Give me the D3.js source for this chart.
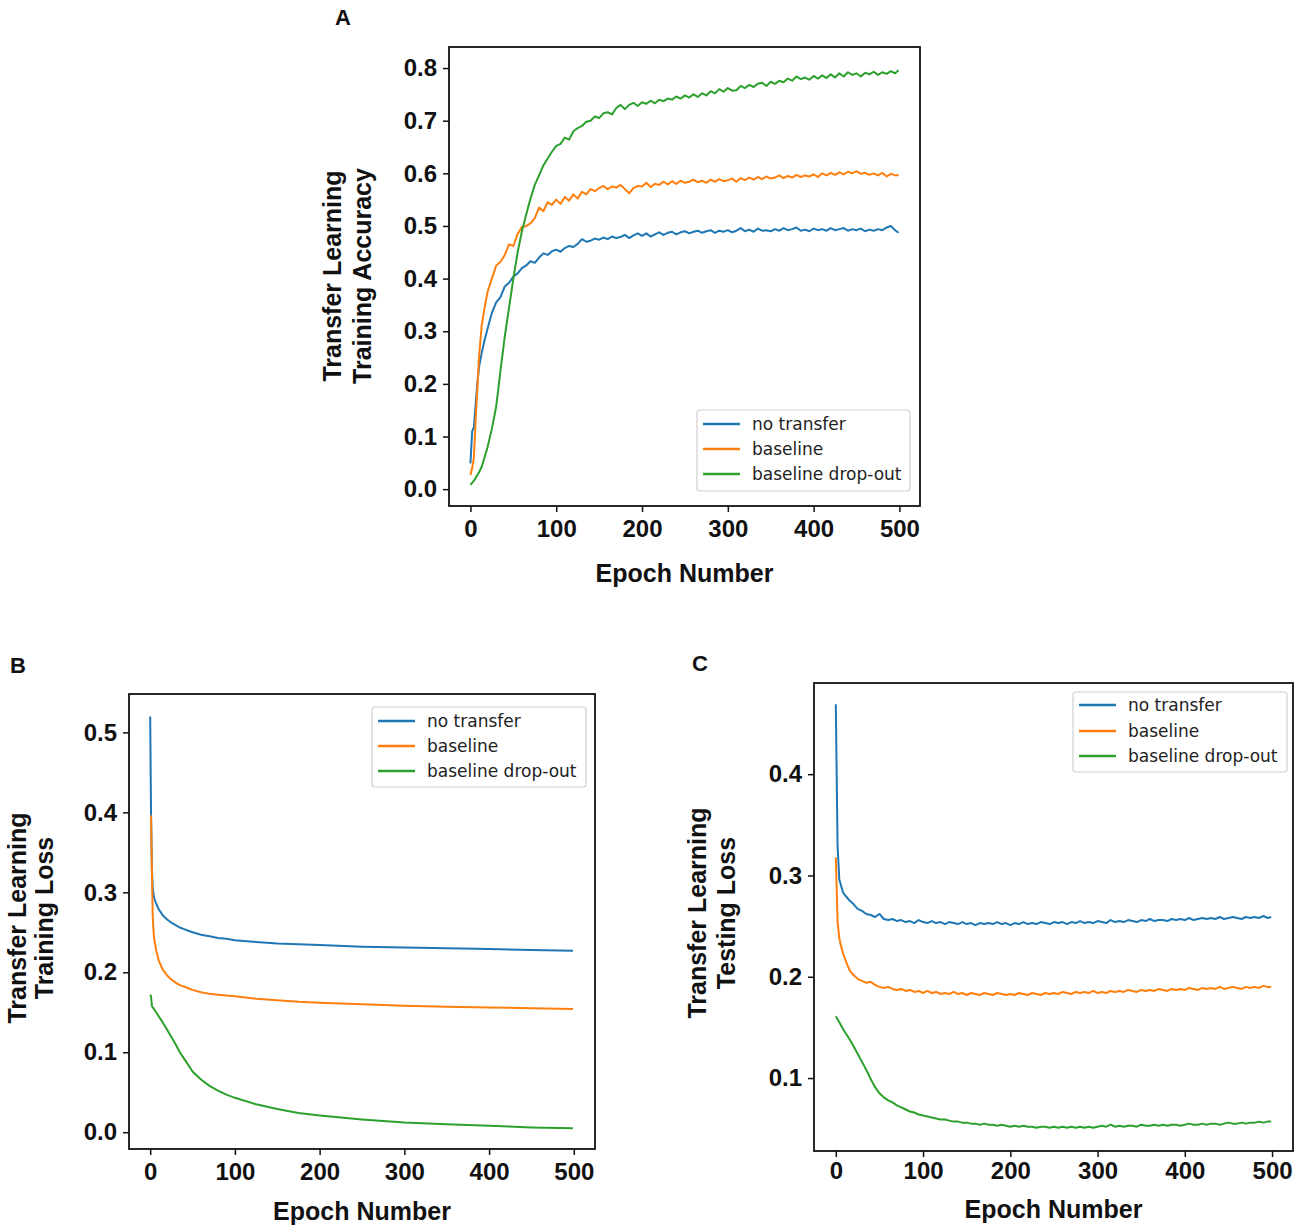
<!DOCTYPE html>
<html>
<head>
<meta charset="utf-8">
<script src="https://cdn.jsdelivr.net/npm/d3@7"></script>
<style>
  html, body { margin: 0; padding: 0; background: #fff; }
  svg { display: block; }
</style>
</head>
<body>
<svg id="chart" width="1300" height="1230"></svg>
<script>
// ---------------- DATA ----------------
const seriesNames = ["no transfer", "baseline", "baseline drop-out"];
const seriesColors = ["#1f77b4", "#ff7f0e", "#2ca02c"];
const xTickValues = [0, 100, 200, 300, 400, 500];
const yTicksA = [0.0, 0.1, 0.2, 0.3, 0.4, 0.5, 0.6, 0.7, 0.8];
const yTicksB = [0.0, 0.1, 0.2, 0.3, 0.4, 0.5];
const yTicksC = [0.1, 0.2, 0.3, 0.4];

// epochs sampled for the noisy curves (panels A and C)
const epochsNoisy = [0,2,4,6,8,10,13,16,20,
  25,30,35,40,45,50,55,60,65,70,
  75,80,85,90,95,100,105,110,115,120,
  125,130,135,140,145,150,155,160,165,170,
  175,180,185,190,195,200,205,210,215,220,
  225,230,235,240,245,250,255,260,265,270,
  275,280,285,290,295,300,305,310,315,320,
  325,330,335,340,345,350,355,360,365,370,
  375,380,385,390,395,400,405,410,415,420,
  425,430,435,440,445,450,455,460,465,470,
  475,480,485,490,495,499];

// Panel A: training accuracy
const accNoTransfer = [0.049,0.110,0.118,0.160,0.200,0.232,0.258,0.280,0.305,
  0.335,0.355,0.365,0.385,0.392,0.404,0.410,0.420,0.425,0.433,
  0.430,0.440,0.448,0.445,0.452,0.455,0.451,0.458,0.462,0.460,
  0.466,0.475,0.470,0.472,0.476,0.474,0.478,0.475,0.480,0.477,
  0.479,0.483,0.477,0.482,0.486,0.481,0.486,0.480,0.484,0.488,
  0.483,0.487,0.489,0.484,0.488,0.490,0.486,0.489,0.491,0.487,
  0.490,0.492,0.487,0.491,0.489,0.492,0.488,0.491,0.496,0.490,
  0.493,0.489,0.495,0.491,0.492,0.490,0.494,0.491,0.496,0.492,
  0.494,0.497,0.491,0.493,0.490,0.495,0.492,0.494,0.491,0.496,
  0.492,0.494,0.496,0.491,0.494,0.492,0.495,0.490,0.493,0.491,
  0.494,0.492,0.497,0.500,0.492,0.487];
const accBaseline = [0.027,0.040,0.060,0.130,0.190,0.250,0.310,0.340,0.375,
  0.400,0.425,0.432,0.445,0.465,0.462,0.485,0.498,0.500,0.505,
  0.515,0.535,0.528,0.545,0.540,0.550,0.542,0.555,0.548,0.560,
  0.552,0.565,0.560,0.570,0.566,0.572,0.576,0.570,0.575,0.573,
  0.578,0.570,0.562,0.572,0.576,0.575,0.582,0.574,0.580,0.578,
  0.584,0.579,0.585,0.580,0.586,0.582,0.584,0.588,0.583,0.586,
  0.582,0.588,0.584,0.589,0.585,0.587,0.590,0.584,0.591,0.587,
  0.592,0.588,0.593,0.589,0.594,0.590,0.592,0.596,0.591,0.595,
  0.592,0.597,0.593,0.596,0.594,0.598,0.593,0.600,0.596,0.601,
  0.597,0.602,0.598,0.603,0.600,0.604,0.599,0.601,0.597,0.600,
  0.596,0.601,0.594,0.599,0.596,0.597];
const accDropout = [0.008,0.012,0.016,0.021,0.027,0.032,0.042,0.058,0.080,
  0.115,0.157,0.225,0.290,0.345,0.400,0.450,0.490,0.522,0.552,
  0.578,0.596,0.615,0.628,0.641,0.652,0.656,0.668,0.664,0.680,
  0.686,0.690,0.698,0.700,0.708,0.705,0.714,0.716,0.712,0.724,
  0.730,0.722,0.730,0.734,0.728,0.735,0.732,0.738,0.733,0.740,
  0.737,0.742,0.740,0.746,0.742,0.748,0.744,0.750,0.745,0.752,
  0.748,0.756,0.752,0.760,0.755,0.762,0.757,0.758,0.766,0.762,
  0.768,0.764,0.770,0.772,0.766,0.774,0.770,0.776,0.773,0.780,
  0.776,0.784,0.779,0.782,0.778,0.785,0.780,0.786,0.781,0.788,
  0.782,0.790,0.784,0.792,0.787,0.790,0.784,0.791,0.788,0.793,
  0.787,0.792,0.789,0.794,0.790,0.796];

// Panel B: training loss (smooth)
const epochsTrainLoss = [0,1,2,3,4,5,7,10,15,20,25,30,35,40,45,50,60,70,80,90,100,125,150,175,200,250,300,350,400,450,499];
const trainLossNoTransfer = [0.520,0.400,0.330,0.305,0.297,0.292,0.286,0.279,0.271,0.266,0.262,0.259,0.256,0.254,0.252,0.250,0.247,0.245,0.243,0.242,0.240,0.238,0.236,0.235,0.234,0.232,0.231,0.230,0.229,0.228,0.227];
const trainLossBaseline = [0.395,0.395,0.330,0.270,0.250,0.240,0.228,0.215,0.203,0.196,0.191,0.187,0.184,0.182,0.180,0.178,0.175,0.173,0.172,0.171,0.170,0.167,0.165,0.163,0.162,0.160,0.158,0.157,0.156,0.155,0.154];
const trainLossDropout = [0.172,0.170,0.158,0.156,0.155,0.153,0.150,0.145,0.137,0.128,0.119,0.110,0.100,0.092,0.084,0.076,0.066,0.058,0.052,0.047,0.043,0.035,0.029,0.024,0.021,0.016,0.012,0.010,0.008,0.006,0.005];

// Panel C: testing loss
const testLossNoTransfer = [0.469,0.330,0.296,0.290,0.284,0.281,0.278,0.275,0.272,
  0.267,0.265,0.262,0.261,0.259,0.262,0.257,0.256,0.257,0.255,
  0.256,0.254,0.255,0.253,0.256,0.254,0.253,0.255,0.253,0.254,
  0.252,0.254,0.253,0.252,0.254,0.252,0.253,0.251,0.253,0.252,
  0.253,0.252,0.254,0.252,0.253,0.251,0.253,0.252,0.254,0.252,
  0.253,0.252,0.254,0.253,0.252,0.254,0.253,0.254,0.252,0.254,
  0.253,0.255,0.253,0.254,0.253,0.255,0.254,0.253,0.256,0.254,
  0.255,0.254,0.256,0.255,0.254,0.256,0.255,0.257,0.255,0.256,
  0.256,0.255,0.257,0.256,0.257,0.256,0.258,0.256,0.257,0.258,
  0.257,0.258,0.257,0.259,0.257,0.258,0.259,0.258,0.257,0.259,
  0.258,0.259,0.258,0.260,0.258,0.259];
const testLossBaseline = [0.318,0.255,0.238,0.230,0.224,0.219,0.212,0.206,0.202,
  0.198,0.196,0.194,0.195,0.192,0.190,0.189,0.190,0.188,0.187,
  0.188,0.186,0.187,0.185,0.186,0.184,0.186,0.184,0.185,0.183,
  0.184,0.183,0.185,0.183,0.184,0.182,0.184,0.183,0.182,0.184,
  0.183,0.182,0.184,0.183,0.182,0.183,0.182,0.184,0.183,0.182,
  0.184,0.183,0.182,0.184,0.183,0.184,0.183,0.185,0.184,0.183,
  0.185,0.184,0.185,0.184,0.186,0.184,0.185,0.184,0.186,0.185,
  0.186,0.185,0.187,0.186,0.185,0.187,0.186,0.187,0.186,0.188,
  0.187,0.186,0.188,0.187,0.188,0.187,0.189,0.188,0.187,0.189,
  0.188,0.189,0.188,0.190,0.188,0.189,0.190,0.189,0.188,0.190,
  0.189,0.190,0.189,0.191,0.190,0.190];
const testLossDropout = [0.161,0.158,0.155,0.152,0.149,0.146,0.142,0.138,0.132,
  0.124,0.116,0.108,0.099,0.091,0.085,0.081,0.078,0.076,0.073,
  0.071,0.069,0.067,0.066,0.064,0.063,0.062,0.061,0.060,0.059,
  0.059,0.058,0.057,0.057,0.056,0.056,0.055,0.055,0.054,0.055,
  0.054,0.054,0.053,0.054,0.053,0.052,0.053,0.052,0.053,0.052,
  0.052,0.051,0.052,0.052,0.051,0.052,0.051,0.052,0.051,0.052,
  0.051,0.052,0.051,0.052,0.051,0.052,0.053,0.052,0.054,0.052,
  0.053,0.052,0.053,0.053,0.052,0.054,0.053,0.053,0.054,0.053,
  0.054,0.053,0.054,0.054,0.053,0.054,0.055,0.054,0.054,0.055,
  0.054,0.055,0.055,0.054,0.055,0.056,0.055,0.055,0.056,0.055,
  0.056,0.056,0.057,0.056,0.057,0.057];

// ---------------- DRAWING ----------------
const svg = d3.select("#chart");
const FONT = "'Liberation Sans', Arial, Helvetica, sans-serif";
const LEGEND_FONT = "'DejaVu Sans', sans-serif";

const panels = [
  {
    letter: "A", letterX: 343, letterY: 25,
    left: 449, right: 920, top: 47, bottom: 506,
    xDomain: [-25, 524], yDomain: [-0.032, 0.84],
    yTicks: yTicksA, xPad: 8,
    epochs: epochsNoisy,
    series: [accNoTransfer, accBaseline, accDropout],
    ylab: ["Transfer Learning", "Training Accuracy"], ylabX: [332, 362], ylabY: 276,
    xlabY: 582,
    legend: { x0: 697, x1: 910, y0: 410, y1: 491, rows: [424, 449, 474], lx0: 703, lx1: 740, tx: 752 }
  },
  {
    letter: "B", letterX: 18, letterY: 673,
    left: 129, right: 595, top: 694, bottom: 1149,
    xDomain: [-25, 525], yDomain: [-0.021, 0.548],
    yTicks: yTicksB, xPad: 8,
    epochs: epochsTrainLoss,
    series: [trainLossNoTransfer, trainLossBaseline, trainLossDropout],
    ylab: ["Transfer Learning", "Training Loss"], ylabX: [17, 44], ylabY: 918,
    xlabY: 1220,
    legend: { x0: 372, x1: 586, y0: 707, y1: 787, rows: [721, 746, 771], lx0: 378, lx1: 415, tx: 427 }
  },
  {
    letter: "C", letterX: 700, letterY: 671,
    left: 814, right: 1293, top: 683, bottom: 1151,
    xDomain: [-25, 524], yDomain: [0.028, 0.49],
    yTicks: yTicksC, xPad: 5,
    epochs: epochsNoisy,
    series: [testLossNoTransfer, testLossBaseline, testLossDropout],
    ylab: ["Transfer Learning", "Testing Loss"], ylabX: [697, 726], ylabY: 913,
    xlabY: 1218,
    legend: { x0: 1073, x1: 1287, y0: 692, y1: 772, rows: [705, 731, 756], lx0: 1079, lx1: 1116, tx: 1128 }
  }
];

panels.forEach(p => {
  const x = d3.scaleLinear().domain(p.xDomain).range([p.left, p.right]);
  const y = d3.scaleLinear().domain(p.yDomain).range([p.bottom, p.top]);
  const g = svg.append("g");

  // clip
  const clipId = "clip" + p.letter;
  svg.append("clipPath").attr("id", clipId)
    .append("rect").attr("x", p.left).attr("y", p.top)
    .attr("width", p.right - p.left).attr("height", p.bottom - p.top);

  // lines
  const line = d3.line().x(d => x(d[0])).y(d => y(d[1]));
  p.series.forEach((vals, i) => {
    const n = Math.min(vals.length, p.epochs.length);
    const pts = d3.range(n).map(k => [p.epochs[k], vals[k]]);
    g.append("path")
      .attr("clip-path", `url(#${clipId})`)
      .attr("d", line(pts))
      .attr("fill", "none")
      .attr("stroke", seriesColors[i])
      .attr("stroke-width", 2)
      .attr("stroke-linejoin", "round");
  });

  // axes
  const xAxis = d3.axisBottom(x).tickValues(xTickValues).tickSize(6).tickPadding(p.xPad)
    .tickFormat(d3.format("d"));
  const yAxis = d3.axisLeft(y).tickValues(p.yTicks).tickSize(6).tickPadding(6)
    .tickFormat(d3.format(".1f"));

  const gx = g.append("g").attr("transform", `translate(0,${p.bottom})`).call(xAxis);
  const gy = g.append("g").attr("transform", `translate(${p.left},0)`).call(yAxis);
  [gx, gy].forEach(ax => {
    ax.select(".domain").remove();
    ax.selectAll(".tick line").attr("stroke", "#111").attr("stroke-width", 1.5);
    ax.selectAll(".tick text")
      .attr("fill", "#111")
      .style("font-family", FONT)
      .style("font-weight", "bold")
      .style("font-size", "24px");
  });

  // frame
  g.append("rect")
    .attr("x", p.left).attr("y", p.top)
    .attr("width", p.right - p.left).attr("height", p.bottom - p.top)
    .attr("fill", "none").attr("stroke", "#111").attr("stroke-width", 1.8);

  // x label
  g.append("text")
    .attr("x", (p.left + p.right) / 2).attr("y", p.xlabY)
    .attr("text-anchor", "middle")
    .style("font-family", FONT).style("font-weight", "bold").style("font-size", "25px")
    .attr("fill", "#111")
    .text("Epoch Number");

  // y label (two lines)
  p.ylab.forEach((t, i) => {
    g.append("text")
      .attr("transform", `translate(${p.ylabX[i]},${p.ylabY}) rotate(-90)`)
      .attr("text-anchor", "middle")
      .attr("dy", "0.36em")
      .style("font-family", FONT).style("font-weight", "bold").style("font-size", "25px")
      .attr("fill", "#111")
      .text(t);
  });

  // panel letter
  svg.append("text")
    .attr("x", p.letterX).attr("y", p.letterY)
    .attr("text-anchor", "middle")
    .style("font-family", FONT).style("font-weight", "bold").style("font-size", "22px")
    .attr("fill", "#111")
    .text(p.letter);

  // legend
  const L = p.legend;
  const lg = g.append("g");
  lg.append("rect")
    .attr("x", L.x0).attr("y", L.y0)
    .attr("width", L.x1 - L.x0).attr("height", L.y1 - L.y0)
    .attr("rx", 3).attr("ry", 3)
    .attr("fill", "#fff").attr("fill-opacity", 0.85)
    .attr("stroke", "#d0d0d0").attr("stroke-width", 1.2);
  seriesNames.forEach((name, i) => {
    lg.append("line")
      .attr("x1", L.lx0).attr("x2", L.lx1)
      .attr("y1", L.rows[i]).attr("y2", L.rows[i])
      .attr("stroke", seriesColors[i]).attr("stroke-width", 2.5);
    lg.append("text")
      .attr("x", L.tx).attr("y", L.rows[i])
      .attr("dy", "0.35em")
      .style("font-family", LEGEND_FONT).style("font-size", "17px")
      .attr("fill", "#222")
      .text(name);
  });
});
</script>
</body>
</html>
